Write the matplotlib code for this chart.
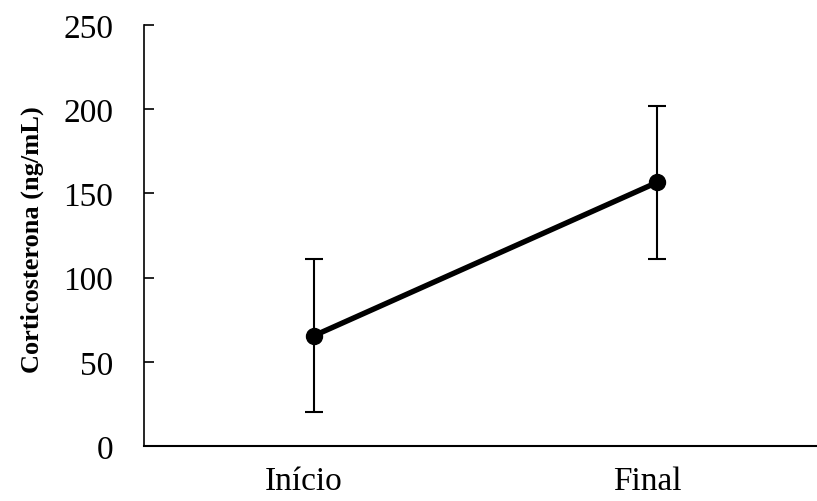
import matplotlib.pyplot as plt
import matplotlib.transforms as mtransforms

categories = ['Início', 'Final']
means = [65.5, 156.5]
errors = [45.5, 45.5]

plt.rcParams['font.family'] = ['Liberation Serif', 'DejaVu Serif']

fig = plt.figure(figsize=(8.17, 5.02), dpi=100)
W, H = 817, 502
ax = fig.add_axes([144 / W, 55 / H, (817 - 144) / W, 421 / H])

x = list(range(len(categories)))
ax.errorbar(x, means, yerr=errors, fmt='none', ecolor='black', elinewidth=1.5,
            capsize=6.5, capthick=1.5, zorder=2)
ax.plot(x, means, color='black', lw=3.9, marker='o', markersize=11.5, zorder=3)

ax.set_xlim(-0.4956, 1.4665)
ax.set_ylim(0, 250)
ax.set_yticks(range(0, 251, 50))
ax.set_xticks(x)
ax.set_xticklabels(categories)

for s in ['top', 'right']:
    ax.spines[s].set_visible(False)
ax.spines['left'].set_linewidth(1.2)
ax.spines['bottom'].set_linewidth(1.5)

ax.tick_params(axis='y', direction='in', length=7, width=1.2, labelsize=24, pad=22)
ax.tick_params(axis='x', length=0, labelsize=24, pad=14)

# category labels sit slightly left of the points in the original
shift = mtransforms.ScaledTranslation(-10 / 100, 0, fig.dpi_scale_trans)
for lab in ax.get_xticklabels():
    lab.set_transform(lab.get_transform() + shift)

ax.set_ylabel('Corticosterona (ng/mL)', fontsize=19, fontweight='bold')
ax.yaxis.set_label_coords(-(144 - 44) / 673, (447 - 240) / 421)

fig.savefig('out.png', dpi=100)
